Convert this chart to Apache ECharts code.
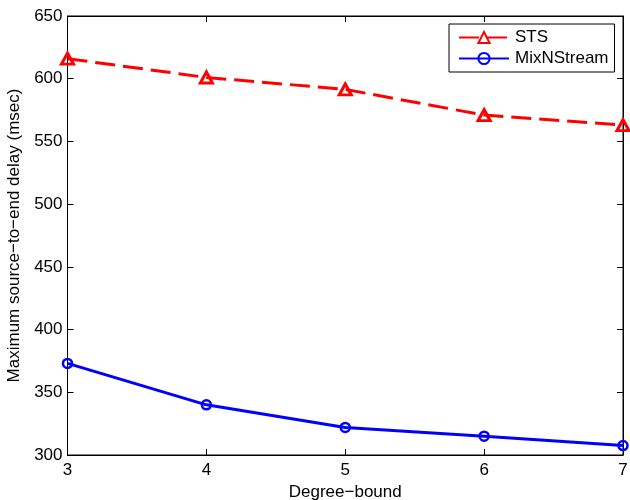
<!DOCTYPE html>
<html>
<head>
<meta charset="utf-8">
<script src="https://cdn.jsdelivr.net/npm/echarts@6/dist/echarts.min.js"></script>
<style>
  html, body { margin: 0; padding: 0; background: #fff; }
  #chart { width: 630px; height: 500px; }
</style>
</head>
<body>
<div id="chart"></div>
<script>
// Degree bound on the x axis, delay values per scheme
const degreeBounds = [3, 4, 5, 6, 7];
const stsDelay = [616, 601, 591.5, 571, 563];
const mixNStreamDelay = [373, 340, 322, 315, 307.5];
const yTicks = [300, 350, 400, 450, 500, 550, 600, 650];

const FONT = 'Liberation Sans, Arial, Helvetica, sans-serif';
const FS = 17;

const chart = echarts.init(document.getElementById('chart'), null, { renderer: 'canvas' });

const pairs = (xs, ys) => xs.map((x, i) => [x, ys[i]]);

const tickStyle = { show: true, inside: true, length: 6, lineStyle: { color: '#000', width: 1 } };
const lineStyle = { show: true, lineStyle: { color: '#000', width: 1 } };

chart.setOption({
  animation: false,
  backgroundColor: '#fff',
  grid: {
    left: 67.5, right: 7, top: 16, bottom: 45,
    outerBoundsMode: 'none',
    containLabel: false,
    show: true, borderColor: '#000', borderWidth: 1, backgroundColor: '#fff'
  },
  legend: {
    orient: 'vertical',
    left: 449, top: 24,
    width: 165,
    padding: [5, 6, 5, 9],
    itemGap: 4,
    itemWidth: 50,
    itemHeight: 14,
    borderColor: '#000',
    borderWidth: 1,
    backgroundColor: '#fff',
    textStyle: { fontFamily: FONT, fontSize: FS, color: '#000', padding: [0, 0, 0, 1] },
    data: ['STS', 'MixNStream']
  },
  xAxis: [{
    type: 'value',
    min: 3, max: 7, interval: 1,
    position: 'bottom',
    axisLine: lineStyle,
    axisTick: tickStyle,
    splitLine: { show: false },
    axisLabel: { fontFamily: FONT, fontSize: FS, color: '#000', margin: 7 },
    name: 'Degree\u2212bound',
    nameLocation: 'middle',
    nameGap: 27,
    nameTextStyle: { fontFamily: FONT, fontSize: FS, color: '#000' }
  }, {
    type: 'value',
    min: 3, max: 7, interval: 1,
    position: 'top',
    axisLine: lineStyle,
    axisTick: tickStyle,
    splitLine: { show: false },
    axisLabel: { show: false }
  }],
  yAxis: [{
    type: 'value',
    min: yTicks[0], max: yTicks[yTicks.length - 1], interval: 50,
    position: 'left',
    axisLine: lineStyle,
    axisTick: tickStyle,
    splitLine: { show: false },
    axisLabel: { fontFamily: FONT, fontSize: FS, color: '#000', margin: 5 },
    name: 'Maximum source\u2212to\u2212end delay (msec)',
    nameLocation: 'middle',
    nameGap: 39,
    nameTextStyle: { fontFamily: FONT, fontSize: FS, color: '#000' }
  }, {
    type: 'value',
    min: yTicks[0], max: yTicks[yTicks.length - 1], interval: 50,
    position: 'right',
    axisLine: lineStyle,
    axisTick: tickStyle,
    splitLine: { show: false },
    axisLabel: { show: false }
  }],
  series: [{
    name: 'STS',
    type: 'line',
    data: pairs(degreeBounds, stsDelay),
    symbol: 'triangle',
    symbolSize: [12, 11],
    color: '#ff0000',
    lineStyle: { color: '#ff0000', width: 3, type: [20, 8] },
    itemStyle: { color: 'rgba(255,255,255,0)', borderColor: '#ff0000', borderWidth: 3 },
    clip: false,
    z: 3
  }, {
    name: 'MixNStream',
    type: 'line',
    data: pairs(degreeBounds, mixNStreamDelay),
    symbol: 'circle',
    symbolSize: 9,
    color: '#0000ff',
    lineStyle: { color: '#0000ff', width: 3 },
    itemStyle: { color: 'rgba(255,255,255,0)', borderColor: '#0000ff', borderWidth: 2.5 },
    clip: false,
    z: 3
  }]
});
</script>
</body>
</html>
